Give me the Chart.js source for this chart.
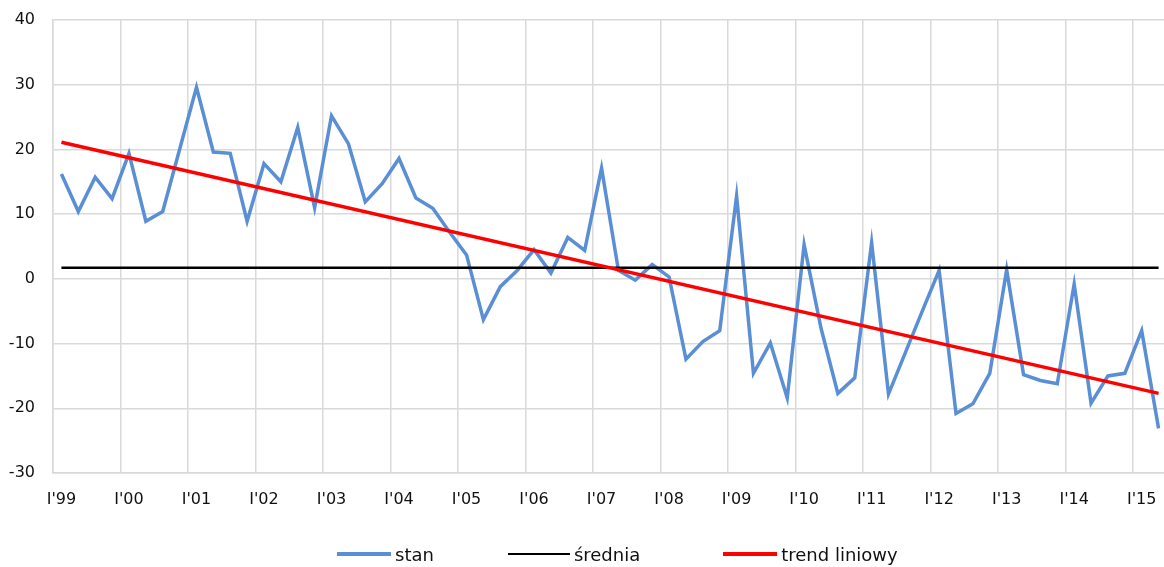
<!DOCTYPE html>
<html lang="pl">
<head>
<meta charset="utf-8">
<title>stan / średnia / trend liniowy</title>
<script src="https://cdn.jsdelivr.net/npm/chart.js@4/dist/chart.umd.min.js"></script>
<style>
  html, body { margin: 0; padding: 0; background: #fff; overflow: hidden; }
  .wrap { position: relative; width: 1167px; height: 567px; }
  .legend {
    position: absolute; left: 337px; top: 541px; height: 26px;
    display: flex; align-items: center;
    font-family: 'DejaVu Sans', Verdana, sans-serif; font-size: 18px; color: #111;
  }
  .legend .item { display: flex; align-items: center; }
  .legend .swatch { margin-right: 4px; }
</style>
</head>
<body>
<div class="wrap">
  <canvas id="chart"></canvas>
  <div class="legend" id="legend"></div>
</div>
<script>
// ----------------------
// Data
// ----------------------
const years = ['99', '00', '01', '02', '03', '04', '05', '06', '07', '08', '09', '10', '11', '12', '13', '14', '15'];
const quarters = ['I', 'II', 'III', 'IV'];

// stan, quarterly from I'99 to II'15
const stan = [
  16.2, 10.4, 15.7, 12.4, 19.4, 8.9, 10.4, 20.0, 29.6, 19.6,
  19.4, 8.9, 17.8, 15.0, 23.4, 11.0, 25.2, 20.9, 11.9, 14.7,
  18.6, 12.5, 10.9, 7.2, 3.7, -6.3, -1.2, 1.3, 4.5, 0.9,
  6.4, 4.4, 17.1, 1.3, -0.2, 2.2, 0.3, -12.4, -9.7, -8.0,
  12.8, -14.6, -9.9, -18.4, 5.3, -7.6, -17.7, -15.3, 5.6, -17.8,
  -11.4, -5.0, 1.3, -20.8, -19.3, -14.6, 1.4, -14.8, -15.7, -16.2,
  -0.8, -19.2, -15.0, -14.6, -8.0, -23.1
];
const sredniaValue = 1.7;
const trendValues = [21.1, -17.7]; // first and last quarter

const yTicks = { min: -30, max: 40, step: 10 };

// category labels: I'99, II'99, ... one per value of stan
const categories = [];
years.forEach((y) => quarters.forEach((q) => categories.push(q + "'" + y)));
categories.length = stan.length;
const firstCat = categories[0];
const lastCat = categories[categories.length - 1];

// ----------------------
// Colors
// ----------------------
const colors = {
  stan: '#5a8fd5',
  srednia: '#000000',
  trend: '#ff0000',
  grid: '#d9d9d9',
  text: '#111111',
};

const font = { family: "'DejaVu Sans', Verdana, sans-serif", size: 16 };
const clear = 'rgba(0,0,0,0)';

new Chart(document.getElementById('chart'), {
  type: 'line',
  data: {
    labels: categories,
    datasets: [
      {
        label: 'stan',
        data: stan,
        borderColor: colors.stan,
        borderWidth: 3.5,
        pointRadius: 0,
        tension: 0,
        order: 3,
      },
      {
        label: 'średnia',
        data: [{ x: firstCat, y: sredniaValue }, { x: lastCat, y: sredniaValue }],
        borderColor: colors.srednia,
        borderWidth: 2.5,
        pointRadius: 0,
        order: 2,
      },
      {
        label: 'trend liniowy',
        data: [{ x: firstCat, y: trendValues[0] }, { x: lastCat, y: trendValues[1] }],
        borderColor: colors.trend,
        borderWidth: 3.5,
        pointRadius: 0,
        order: 1,
      },
    ],
  },
  options: {
    responsive: true,
    maintainAspectRatio: false,
    animation: false,
    layout: { padding: { top: 20, right: 0, bottom: 54, left: 0 } },
    plugins: {
      legend: { display: false },
      tooltip: { enabled: false },
    },
    scales: {
      x: {
        offset: true,
        grid: {
          offset: true,
          drawTicks: true,
          tickLength: 17,
          tickColor: clear,
          lineWidth: 1.5,
          color: (ctx) => (ctx.index % 4 === 0 ? colors.grid : clear),
        },
        border: { color: colors.grid, width: 1.5 },
        ticks: {
          autoSkip: false,
          maxRotation: 0,
          padding: 0,
          color: colors.text,
          font: font,
          callback: (value, index) => (index % 4 === 0 ? categories[index] : ''),
        },
        afterFit: (scale) => { scale.height = 40; },
      },
      y: {
        min: yTicks.min,
        max: yTicks.max,
        grid: { drawTicks: true, tickLength: 18, tickColor: clear, lineWidth: 1.5, color: colors.grid },
        border: { color: colors.grid, width: 1.5 },
        ticks: { stepSize: yTicks.step, padding: 0, color: colors.text, font: font },
        afterFit: (scale) => { scale.width = 53; },
      },
    },
  },
});

// ----------------------
// Legend (line swatch + text)
// ----------------------
const legendItems = [
  { text: 'stan', color: colors.stan, width: 3.5, len: 54, gap: 74 },
  { text: 'średnia', color: colors.srednia, width: 2.5, len: 62, gap: 83 },
  { text: 'trend liniowy', color: colors.trend, width: 3.5, len: 54, gap: 0 },
];
const legend = document.getElementById('legend');
legendItems.forEach((it) => {
  const item = document.createElement('div');
  item.className = 'item';
  item.style.marginRight = it.gap + 'px';
  const sw = document.createElement('span');
  sw.className = 'swatch';
  sw.style.width = it.len + 'px';
  sw.style.height = it.width + 'px';
  sw.style.background = it.color;
  const label = document.createElement('span');
  label.textContent = it.text;
  item.appendChild(sw);
  item.appendChild(label);
  legend.appendChild(item);
});
</script>
</body>
</html>
